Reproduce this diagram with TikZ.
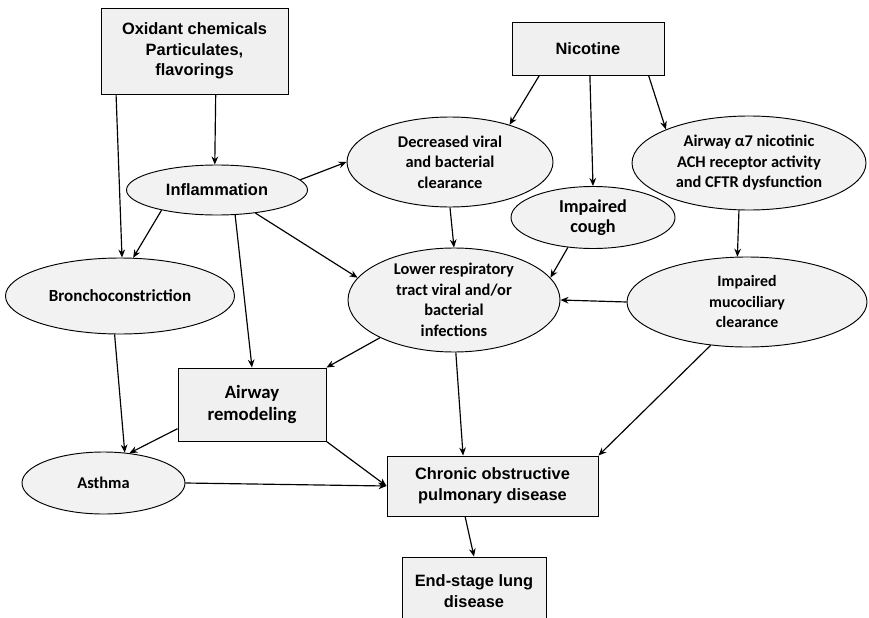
\documentclass[tikz,border=0pt]{standalone}
\usepackage{fontspec}
\setmainfont{Liberation Sans}
\newfontfamily\calfont{Carlito}
\usetikzlibrary{arrows.meta, shapes.geometric}

\begin{document}
\begin{tikzpicture}[
    x=0.03cm, y=-0.03cm,
    >={Stealth[length=2.4mm, width=2mm]},
    box/.style  = {rectangle, draw=black, line width=0.8pt, fill=gray!12, inner sep=0pt,
                   align=center, font=\fontsize{14}{17.5}\selectfont\bfseries},
    oval/.style = {ellipse, draw=black, line width=0.8pt, fill=gray!10, inner sep=0pt,
                   align=center, font=\calfont\fontsize{14}{17.5}\selectfont\bfseries},
    con/.style  = {->, draw=black, line width=1pt}
  ]
  \clip (0,0) rectangle (869,618);

  % --- causes (top) ---
  \node[box, minimum width=5.61cm, minimum height=2.58cm] (Ox) at (194.5,51)
       {Oxidant chemicals\\Particulates,\\flavorings};
  \node[box, minimum width=4.56cm, minimum height=1.59cm] (Nic) at (588,48.5) {Nicotine};

  % --- intermediate effects ---
  \node[oval, font=\fontsize{14}{17.5}\selectfont\bfseries,
        minimum width=5.43cm, minimum height=1.5cm] (Infl) at (217,190) {Inflammation};
  \node[oval, minimum width=6.18cm, minimum height=2.7cm] (Dec) at (450,162)
       {Decreased viral\\and bacterial\\clearance};
  \node[oval, minimum width=7.02cm, minimum height=2.82cm] (A7) at (749,163)
       {Airway α7 nicotinic\\ACH receptor activity\\and CFTR dysfunction};
  \node[oval, font=\calfont\fontsize{15.5}{17.5}\selectfont\bfseries,
        minimum width=4.92cm, minimum height=1.86cm] (Cough) at (593,217.5)
       {Impaired\\cough};
  \node[oval, font=\calfont\fontsize{14.5}{17.5}\selectfont\bfseries,
        minimum width=6.87cm, minimum height=2.28cm] (Br) at (120,296)
       {Bronchoconstriction};
  \node[oval, minimum width=6.36cm, minimum height=3.12cm] (Low) at (454,300)
       {Lower respiratory\\tract viral and/or\\bacterial\\infections};
  \node[oval, font=\calfont\fontsize{13.5}{17.5}\selectfont\bfseries,
        minimum width=7.2cm, minimum height=2.7cm] (Muco) at (747,302)
       {Impaired\\mucociliary\\clearance};
  \node[box, font=\calfont\fontsize{16}{19}\selectfont\bfseries,
        minimum width=4.44cm, minimum height=2.19cm] (Rem) at (252,404.5)
       {Airway\\remodeling};

  % --- outcomes (bottom) ---
  \node[oval, minimum width=4.89cm, minimum height=1.86cm] (Asth) at (103.5,483) {Asthma};
  \node[box, minimum width=6.33cm, minimum height=1.8cm] (COPD) at (492.5,486)
       {Chronic obstructive\\pulmonary disease};
  \node[box, minimum width=4.32cm, minimum height=2.04cm] (End) at (474,591)
       {End-stage lung\\disease};

  % --- links from the causes ---
  \draw[con] (Ox.209) -- (Br.87);
  \draw[con] (Ox.296) -- (Infl.95);
  \draw[con] (Nic.209) -- (Dec.32);
  \draw[con] (Nic.274) -- (Cough.north);
  \draw[con] (Nic.336) -- (A7.158);

  % --- links between the effects ---
  \draw[con] (Infl.200) -- (Br.71);
  \draw[con] (Infl.7) -- (Dec.west);
  \draw[con] (Infl.329) -- (Low.167);
  \draw[con] (Infl.306) -- (Rem.north);
  \draw[con] (Dec.south) -- (Low.north);
  \draw[con] (Cough.230) -- (Low.13);
  \draw[con] (A7.258) -- (Muco.102);
  \draw[con] (Muco.west) -- (Low.east);
  \draw[con] (Low.207) -- (Rem.north east);

  % --- links to the outcomes ---
  \draw[con] (Br.262) -- (Asth.55);
  \draw[con] (Rem.198) -- (Asth.49);
  \draw[con] (Low.272) -- (COPD.134);
  \draw[con] (Muco.230) -- (COPD.north east);
  \draw[con] (Rem.south east) -- (COPD.west);
  \draw[con] (Asth.east) -- (COPD.west);
  \draw[con] (COPD.228) -- (End.north);

\end{tikzpicture}
\end{document}
